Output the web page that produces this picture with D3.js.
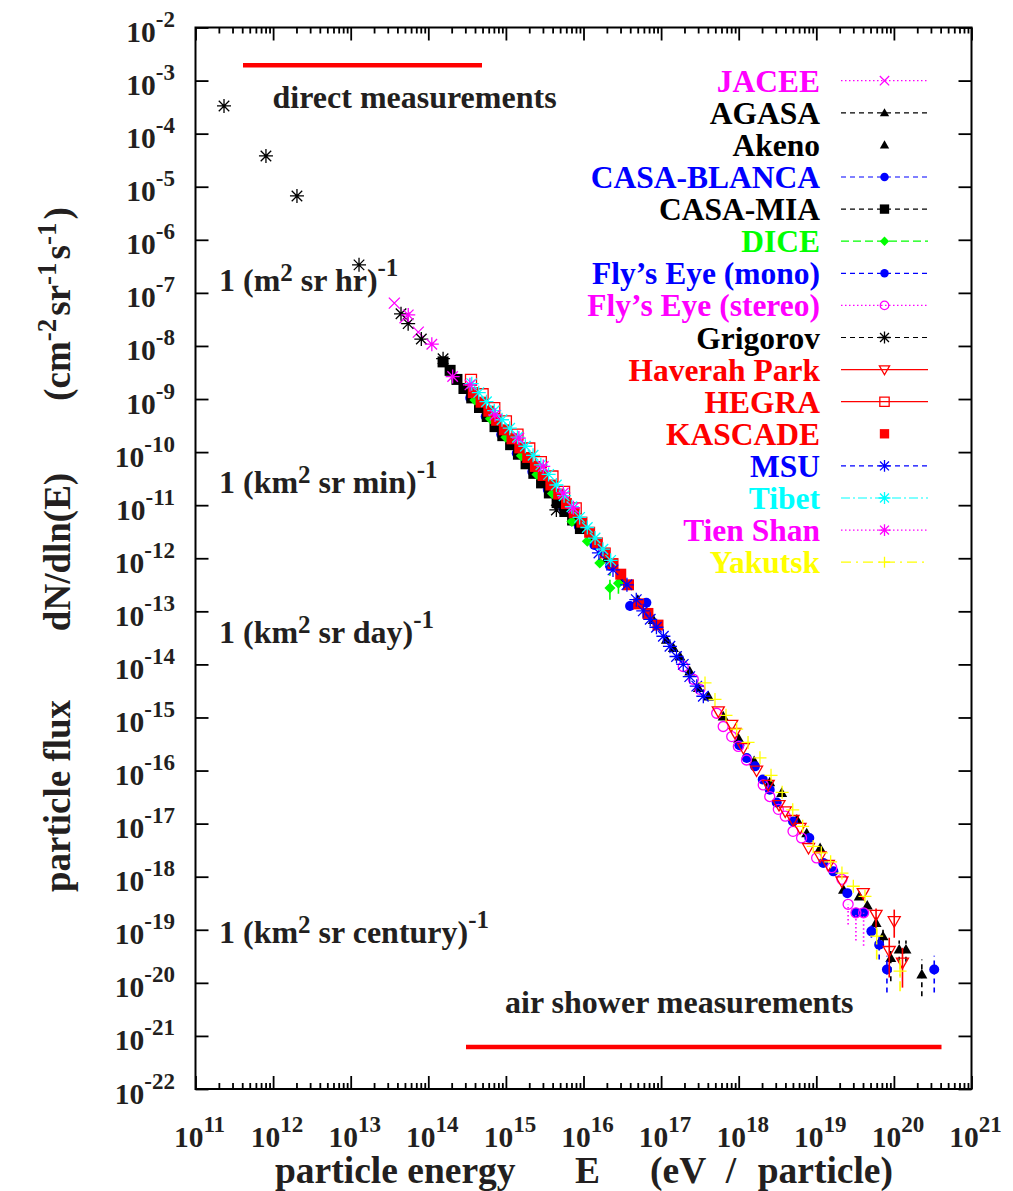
<!DOCTYPE html>
<html>
<head>
<meta charset="utf-8">
<script src="https://cdn.jsdelivr.net/npm/d3@7"></script>
<style>
  html, body { margin: 0; padding: 0; background: #fff; }
  text { font-family: "Liberation Serif", "Times New Roman", Times, serif; font-weight: bold; }
</style>
</head>
<body>
<svg id="chart" width="1013" height="1191"></svg>
<script>
// Cosmic-ray all-particle spectrum, E dN/dE versus E.
// Each point: [energy (eV), flux (cm^-2 sr^-1 s^-1), optional flux low, optional flux high]

const jacee = [
  [3.65e13, 6.40e-8], [5.01e13, 3.39e-8], [7.43e13, 1.82e-8]
];
const agasa = [
  [3.58e18, 3.80e-17], [5.62e18, 1.20e-17], [7.52e18, 6.61e-18], [1.12e19, 3.47e-18],
  [2.24e19, 5.69e-19], [3.58e19, 4.27e-19], [4.54e19, 2.88e-19],
  [5.89e19, 1.35e-19, 1.07e-19, 1.70e-19], [7.24e19, 7.59e-20, 5.62e-20, 1.00e-19],
  [9.12e19, 2.95e-20, 1.07e-20, 3.98e-20], [1.17e20, 4.27e-20, 2.51e-20, 6.31e-20],
  [1.43e20, 4.27e-20, 2.51e-20, 6.31e-20], [2.29e20, 1.45e-20, 5.62e-21, 2.75e-20]
];
const akeno = [
  [2.00e15, 5.75e-11], [3.16e15, 2.57e-11], [5.01e15, 1.15e-11], [7.94e15, 5.25e-12],
  [1.26e16, 2.40e-12], [2.00e16, 1.00e-12], [3.16e16, 4.17e-13], [5.01e16, 1.66e-13],
  [7.94e16, 6.92e-14], [1.17e17, 2.92e-14], [1.44e17, 2.04e-14], [1.75e17, 1.41e-14],
  [2.34e17, 7.41e-15], [3.02e17, 3.63e-15], [4.07e17, 2.51e-15], [6.31e17, 1.05e-15],
  [1.00e18, 3.98e-16], [1.58e18, 1.51e-16], [2.51e18, 6.03e-17]
];
const casaBlanca = [
  [3.47e14, 1.05e-9], [5.50e14, 4.68e-10], [8.71e14, 2.14e-10], [1.38e15, 9.55e-11],
  [2.19e15, 4.27e-11], [3.47e15, 1.95e-11], [5.50e15, 8.71e-12], [8.71e15, 3.98e-12],
  [1.38e16, 1.78e-12], [2.19e16, 7.24e-13],
  [3.98e16, 1.26e-13, 1.02e-13, 1.55e-13], [6.46e16, 1.45e-13, 1.20e-13, 1.74e-13]
];
const casaMia = [
  [1.55e14, 5.01e-9], [1.91e14, 3.47e-9], [2.34e14, 2.34e-9], [2.88e14, 1.58e-9],
  [3.63e14, 1.05e-9], [4.57e14, 6.92e-10], [5.75e14, 4.68e-10], [7.24e14, 3.02e-10],
  [9.12e14, 2.04e-10], [1.15e15, 1.38e-10], [1.45e15, 9.12e-11], [1.82e15, 6.03e-11],
  [2.29e15, 3.98e-11], [2.88e15, 2.63e-11], [3.63e15, 1.70e-11], [4.57e15, 1.12e-11],
  [5.75e15, 7.59e-12], [7.24e15, 5.25e-12], [9.12e15, 3.63e-12]
];
const dice = [
  [3.98e14, 9.55e-10], [6.31e14, 4.27e-10], [1.00e15, 1.91e-10], [1.58e15, 8.51e-11],
  [2.51e15, 3.80e-11], [3.98e15, 1.66e-11], [7.08e15, 4.90e-12], [1.12e16, 2.09e-12],
  [1.62e16, 8.13e-13], [2.19e16, 2.75e-13, 1.66e-13, 5.25e-13],
  [2.82e16, 3.39e-13, 2.14e-13, 5.37e-13]
];
const flysEyeMono = [
  [1.02e18, 2.99e-16], [1.27e18, 1.73e-16], [1.62e18, 1.20e-16], [2.04e18, 6.76e-17],
  [2.51e18, 4.37e-17], [3.09e18, 2.51e-17], [5.01e18, 1.10e-17], [8.13e18, 5.37e-18],
  [1.23e19, 1.82e-18], [1.66e19, 1.26e-18], [2.51e19, 4.90e-19], [3.24e19, 2.09e-19],
  [4.03e19, 2.09e-19], [5.13e19, 9.33e-20, 7.08e-20, 1.20e-19],
  [6.46e19, 5.25e-20, 2.75e-20, 7.94e-20], [8.13e19, 1.78e-20, 6.61e-21, 3.24e-20],
  [3.31e20, 1.78e-20, 6.61e-21, 3.24e-20]
];
const flysEyeStereo = [
  [1.93e17, 9.12e-15], [2.60e17, 5.25e-15], [3.16e17, 3.39e-15], [5.20e17, 1.20e-15],
  [6.31e17, 6.76e-16], [8.13e17, 4.37e-16], [9.89e17, 2.85e-16], [1.26e18, 1.58e-16],
  [2.07e18, 5.37e-17], [2.51e18, 3.24e-17], [3.24e18, 1.86e-17], [3.98e18, 1.38e-17],
  [5.01e18, 7.16e-18], [6.46e18, 5.37e-18], [1.01e19, 2.26e-18], [1.58e19, 1.48e-18],
  [2.14e19, 8.91e-19], [2.57e19, 3.02e-19, 1.26e-19, 3.02e-19],
  [3.24e19, 2.09e-19, 6.31e-20, 2.09e-19], [4.07e19, 2.09e-19, 5.01e-20, 2.09e-19]
];
const grigorov = [
  [2.33e11, 3.33e-4], [8.09e11, 3.80e-5], [2.03e12, 6.71e-6], [1.28e13, 3.37e-7],
  [4.45e13, 4.03e-8], [5.50e13, 2.63e-8], [8.13e13, 1.35e-8], [1.55e14, 5.75e-9],
  [4.47e15, 8.13e-12]
];
const haverahPark = [
  [5.46e17, 1.30e-15], [8.13e17, 7.24e-16], [8.95e17, 5.13e-16], [1.15e18, 2.66e-16],
  [1.70e18, 1.00e-16], [2.40e18, 5.37e-17], [3.31e18, 2.24e-17], [3.98e18, 1.70e-17],
  [5.01e18, 1.17e-17], [6.17e18, 8.32e-18], [7.94e18, 3.47e-18], [1.12e19, 2.40e-18],
  [1.43e19, 1.66e-18], [2.14e19, 8.13e-19], [4.03e19, 4.90e-19],
  [5.89e19, 1.91e-19, 1.10e-19, 2.51e-19], [8.71e19, 3.98e-20, 1.26e-20, 7.08e-20],
  [1.01e20, 1.45e-19, 7.08e-20, 2.40e-19], [1.29e20, 2.40e-20, 8.13e-21, 4.57e-20]
];
const hegra = [
  [3.55e14, 2.29e-9], [5.01e14, 1.23e-9], [7.08e14, 6.76e-10], [1.00e15, 3.80e-10],
  [1.41e15, 2.14e-10], [2.00e15, 1.17e-10], [2.82e15, 6.46e-11], [3.98e15, 3.47e-11],
  [5.62e15, 1.78e-11], [7.94e15, 8.71e-12]
];
const kascade = [
  [3.80e14, 1.32e-9], [4.79e14, 8.71e-10], [6.03e14, 5.89e-10], [7.59e14, 3.98e-10],
  [9.55e14, 2.63e-10], [1.20e15, 1.78e-10], [1.51e15, 1.20e-10], [1.91e15, 7.94e-11],
  [2.40e15, 5.37e-11], [3.02e15, 3.63e-11], [3.80e15, 2.40e-11], [4.79e15, 1.62e-11],
  [6.03e15, 1.07e-11], [7.59e15, 7.24e-12], [9.55e15, 4.79e-12], [1.20e16, 3.09e-12],
  [1.51e16, 1.95e-12], [1.91e16, 1.26e-12], [2.40e16, 7.94e-13], [3.02e16, 5.01e-13],
  [3.80e16, 3.16e-13], [5.13e16, 1.38e-13], [6.76e16, 9.12e-14], [9.12e16, 5.50e-14]
];
const msu = [
  [1.58e16, 1.26e-12], [2.40e16, 6.03e-13], [3.63e16, 3.16e-13], [4.79e16, 1.66e-13],
  [5.89e16, 1.02e-13], [7.24e16, 7.08e-14], [8.71e16, 5.01e-14], [1.07e17, 3.39e-14],
  [1.30e17, 2.19e-14], [1.58e17, 1.41e-14], [1.93e17, 1.00e-14], [2.34e17, 5.89e-15],
  [2.88e17, 3.89e-15], [3.50e17, 2.51e-15]
];
const tibet = [
  [3.63e14, 1.95e-9], [4.47e14, 1.32e-9], [5.62e14, 8.91e-10], [7.08e14, 6.03e-10],
  [8.91e14, 4.07e-10], [1.12e15, 2.82e-10], [1.41e15, 1.91e-10], [1.78e15, 1.29e-10],
  [2.24e15, 8.71e-11], [2.82e15, 5.75e-11], [3.55e15, 3.80e-11], [4.47e15, 2.40e-11],
  [5.62e15, 1.51e-11], [7.08e15, 9.33e-12], [8.91e15, 5.89e-12], [1.12e16, 3.80e-12],
  [1.41e16, 2.40e-12], [1.78e16, 1.48e-12], [2.24e16, 9.12e-13]
];
const tienShan = [
  [5.52e13, 3.85e-8], [1.11e14, 1.08e-8], [2.06e14, 2.65e-9], [3.44e14, 1.85e-9],
  [7.24e14, 5.01e-10], [1.47e15, 1.84e-10], [3.03e15, 5.37e-11], [5.50e15, 1.70e-11],
  [7.41e15, 8.91e-12]
];
const yakutsk = [
  [3.68e17, 4.47e-15], [4.95e17, 2.19e-15], [6.86e17, 1.10e-15], [9.42e17, 6.03e-16],
  [1.32e18, 3.39e-16], [1.88e18, 1.74e-16], [2.61e18, 8.13e-17], [3.63e18, 3.89e-17],
  [4.97e18, 1.82e-17], [6.68e18, 8.91e-18], [9.12e18, 3.72e-18], [1.16e19, 2.82e-18],
  [1.53e19, 1.91e-18], [2.14e19, 1.17e-18], [3.00e19, 6.61e-19], [4.24e19, 4.27e-19],
  [6.00e19, 7.59e-20, 2.75e-20, 1.17e-19], [1.20e20, 1.66e-20, 6.92e-21, 2.75e-20]
];

// axis decades
const xDecades = [11, 12, 13, 14, 15, 16, 17, 18, 19, 20, 21];
const yDecades = [-2, -3, -4, -5, -6, -7, -8, -9, -10, -11, -12, -13, -14, -15, -16, -17, -18, -19, -20, -21, -22];

// experiments, in drawing and legend order
const series = [
  { name: "JACEE",              color: "#ff00ff", data: jacee,         shape: "cross",    dash: "1.5,2.5" },
  { name: "AGASA",              color: "#000000", data: agasa,         shape: "triUp",    dash: "5,4" },
  { name: "Akeno",              color: "#000000", data: akeno,         shape: "triUp",    dash: null },
  { name: "CASA-BLANCA",        color: "#0000ff", data: casaBlanca,    shape: "circle",   dash: "5,4" },
  { name: "CASA-MIA",           color: "#000000", data: casaMia,       shape: "square",   dash: "5,4" },
  { name: "DICE",               color: "#00ff00", data: dice,          shape: "diamond",  dash: "8,4" },
  { name: "Fly\u2019s Eye (mono)",   color: "#0000ff", data: flysEyeMono,   shape: "circle",   dash: "5,4" },
  { name: "Fly\u2019s Eye (stereo)", color: "#ff00ff", data: flysEyeStereo, shape: "ocircle",  dash: "1.5,2.5" },
  { name: "Grigorov",           color: "#000000", data: grigorov,      shape: "star",     dash: "5,4" },
  { name: "Haverah Park",       color: "#ff0000", data: haverahPark,   shape: "otriDown", dash: "" },
  { name: "HEGRA",              color: "#ff0000", data: hegra,         shape: "osquare",  dash: "" },
  { name: "KASCADE",            color: "#ff0000", data: kascade,       shape: "square",   dash: null },
  { name: "MSU",                color: "#0000ff", data: msu,           shape: "star",     dash: "5,4" },
  { name: "Tibet",              color: "#00ffff", data: tibet,         shape: "star",     dash: "9,3,2,3" },
  { name: "Tien Shan",          color: "#ff00ff", data: tienShan,      shape: "star",     dash: "1.5,2.5" },
  { name: "Yakutsk",            color: "#ffff00", data: yakutsk,       shape: "plus",     dash: "10,5,2,5" }
];

const svg = d3.select("#chart");
const inkColor = "#231f20";

const x = d3.scaleLog().domain([1e11, 1e21]).range([195.5, 971.5]);
const y = d3.scaleLog().domain([1e-22, 1e-2]).range([1089, 27.5]);

// ---------- marker shapes ----------
const shapes = {
  cross:    s => `M${-s},${-s}L${s},${s}M${-s},${s}L${s},${-s}`,
  plus:     s => `M${-s},0L${s},0M0,${-s}L0,${s}`,
  star:     s => { const d = s * 0.75; return `M${-s},0L${s},0M0,${-s}L0,${s}M${-d},${-d}L${d},${d}M${-d},${d}L${d},${-d}`; },
  triUp:    s => `M0,${-s}L${s},${s * 0.75}L${-s},${s * 0.75}Z`,
  otriDown: s => `M0,${s}L${s},${-s * 0.75}L${-s},${-s * 0.75}Z`,
  square:   s => `M${-s},${-s}H${s}V${s}H${-s}Z`,
  osquare:  s => `M${-s},${-s}H${s}V${s}H${-s}Z`,
  diamond:  s => `M0,${-s}L${s},0L0,${s}L${-s},0Z`,
  circle:   s => `M${s},0A${s},${s} 0 1,1 ${-s},0A${s},${s} 0 1,1 ${s},0Z`,
  ocircle:  s => `M${s},0A${s},${s} 0 1,1 ${-s},0A${s},${s} 0 1,1 ${s},0Z`
};
const shapeSize = { cross: 5.5, plus: 6.5, star: 7, triUp: 5.5, otriDown: 6, square: 5.5,
                    osquare: 5.5, diamond: 5.5, circle: 5, ocircle: 5 };
const filled = { triUp: true, square: true, diamond: true, circle: true };

function drawMarker(g, shape, color, scale) {
  const s = shapeSize[shape] * scale;
  const p = g.append("path").attr("d", shapes[shape](s));
  if (filled[shape]) p.attr("fill", color).attr("stroke", "none");
  else p.attr("fill", "none").attr("stroke", color).attr("stroke-width", 1.3);
  return p;
}

// ---------- axes (ticks point inward) ----------
const xMajor = xDecades.map(p => Math.pow(10, p));
const xMinor = [];
xDecades.slice(0, -1).forEach(p => { for (let k = 2; k <= 9; k++) xMinor.push(k * Math.pow(10, p)); });
const yMajor = yDecades.map(p => Math.pow(10, p));

function styleAxis(g) {
  g.select(".domain").remove();
  g.selectAll(".tick line").attr("stroke", "#000").attr("stroke-width", 1.8);
  g.selectAll(".tick text").remove();
}
svg.append("g").attr("transform", "translate(0,1089)")
  .call(d3.axisBottom(x).tickValues(xMajor).tickSize(-13).tickFormat("")).call(styleAxis);
svg.append("g").attr("transform", "translate(0,1089)")
  .call(d3.axisBottom(x).tickValues(xMinor).tickSize(-6).tickFormat("")).call(styleAxis);
svg.append("g").attr("transform", "translate(0,27.5)")
  .call(d3.axisTop(x).tickValues(xMajor).tickSize(-13).tickFormat("")).call(styleAxis);
svg.append("g").attr("transform", "translate(0,27.5)")
  .call(d3.axisTop(x).tickValues(xMinor).tickSize(-6).tickFormat("")).call(styleAxis);
svg.append("g").attr("transform", "translate(195.5,0)")
  .call(d3.axisLeft(y).tickValues(yMajor).tickSize(-13).tickFormat("")).call(styleAxis);
svg.append("g").attr("transform", "translate(971.5,0)")
  .call(d3.axisRight(y).tickValues(yMajor).tickSize(-13).tickFormat("")).call(styleAxis);

svg.append("rect")
  .attr("x", x(1e11)).attr("y", y(1e-2))
  .attr("width", x(1e21) - x(1e11)).attr("height", y(1e-22) - y(1e-2))
  .attr("fill", "none").attr("stroke", "#000").attr("stroke-width", 2);

// tick labels "10^n"
function powerLabel(t, p) {
  t.append("tspan").style("font-size", "29.5px").text("10");
  t.append("tspan").attr("dy", -15).style("font-size", "23px").text(p);
}
yDecades.forEach(p => {
  const t = svg.append("text").attr("x", 175).attr("y", y(Math.pow(10, p)) + 14.5)
    .attr("text-anchor", "end").attr("fill", inkColor);
  powerLabel(t, p);
});
xDecades.forEach(p => {
  const t = svg.append("text").attr("x", x(Math.pow(10, p)) + 4).attr("y", 1147)
    .attr("text-anchor", "middle").attr("fill", inkColor);
  powerLabel(t, p);
});

// ---------- data ----------
const plot = svg.append("g");
series.forEach(sr => {
  const g = plot.append("g");
  sr.data.filter(d => d.length > 2).forEach(d => {
    g.append("line")
      .attr("x1", x(d[0])).attr("x2", x(d[0]))
      .attr("y1", y(d[2])).attr("y2", y(d[3]))
      .attr("stroke", sr.color).attr("stroke-width", 1.6)
      .attr("stroke-dasharray", sr.dash || null);
  });
  sr.data.forEach(d => {
    drawMarker(g, sr.shape, sr.color, 1)
      .attr("transform", `translate(${x(d[0])},${y(d[1])})`);
  });
});

// ---------- legend ----------
const legend = svg.append("g");
series.forEach((sr, i) => {
  const cy = 80.7 + i * 32.1;
  legend.append("text").attr("x", 820).attr("y", cy + 11)
    .attr("text-anchor", "end").attr("fill", sr.color)
    .style("font-size", "31.5px").text(sr.name);
  if (sr.dash !== null) {
    legend.append("line").attr("x1", 841).attr("x2", 928).attr("y1", cy).attr("y2", cy)
      .attr("stroke", sr.color).attr("stroke-width", 1.2)
      .attr("stroke-dasharray", sr.dash || null);
  }
  drawMarker(legend, sr.shape, sr.color, 0.85).attr("transform", `translate(884.5,${cy})`);
});

// ---------- annotations ----------
svg.append("line").attr("x1", 243).attr("x2", 482).attr("y1", 65.3).attr("y2", 65.3)
  .attr("stroke", "#ff0000").attr("stroke-width", 4.5);
svg.append("text").attr("x", 272.5).attr("y", 108).attr("fill", inkColor)
  .style("font-size", "32px").text("direct measurements");
svg.append("line").attr("x1", 466).attr("x2", 941.5).attr("y1", 1047).attr("y2", 1047)
  .attr("stroke", "#ff0000").attr("stroke-width", 4.5);
svg.append("text").attr("x", 853.5).attr("y", 1013).attr("text-anchor", "end").attr("fill", inkColor)
  .style("font-size", "32px").text("air shower measurements");

const rateLabels = [
  { area: "m", time: "hr", baseline: 291 },
  { area: "km", time: "min", baseline: 493 },
  { area: "km", time: "day", baseline: 643 },
  { area: "km", time: "century", baseline: 943 }
];
rateLabels.forEach(r => {
  const t = svg.append("text").attr("x", 219).attr("y", r.baseline).attr("fill", inkColor)
    .style("font-size", "32px");
  t.append("tspan").text("1 (" + r.area);
  t.append("tspan").attr("dy", -10).style("font-size", "25px").text("2");
  t.append("tspan").attr("dy", 10).text(" sr " + r.time + ")");
  t.append("tspan").attr("dy", -15).style("font-size", "25px").text("-1");
});

// ---------- axis titles ----------
const titleSize = "37.5px";
svg.append("text").attr("x", 275).attr("y", 1183).attr("fill", inkColor)
  .style("font-size", titleSize).text("particle energy");
svg.append("text").attr("x", 575).attr("y", 1183).attr("fill", inkColor)
  .style("font-size", titleSize).text("E");
svg.append("text").attr("x", 650).attr("y", 1183).attr("fill", inkColor)
  .style("font-size", titleSize).text("(eV");
svg.append("text").attr("x", 731).attr("y", 1183).attr("text-anchor", "middle").attr("fill", inkColor)
  .style("font-size", titleSize).text("/");
svg.append("text").attr("x", 893).attr("y", 1183).attr("text-anchor", "end").attr("fill", inkColor)
  .style("font-size", titleSize).text("particle)");

function yTitle(cy, build) {
  const t = svg.append("text").attr("transform", `translate(70,${cy}) rotate(-90)`)
    .attr("text-anchor", "middle").attr("fill", inkColor).style("font-size", "37px");
  build(t);
}
yTitle(796, t => t.text("particle flux"));
yTitle(552, t => t.text("dN/dln(E)"));
yTitle(304, t => {
  t.append("tspan").text("(cm");
  t.append("tspan").attr("dy", -14).style("font-size", "27px").text("-2");
  t.append("tspan").attr("dy", 14).attr("dx", 3).text("sr");
  t.append("tspan").attr("dy", -14).style("font-size", "27px").text("-1");
  t.append("tspan").attr("dy", 14).attr("dx", 3).text("s");
  t.append("tspan").attr("dy", -14).style("font-size", "27px").text("-1");
  t.append("tspan").attr("dy", 14).attr("dx", 3).text(")");
});
</script>
</body>
</html>
